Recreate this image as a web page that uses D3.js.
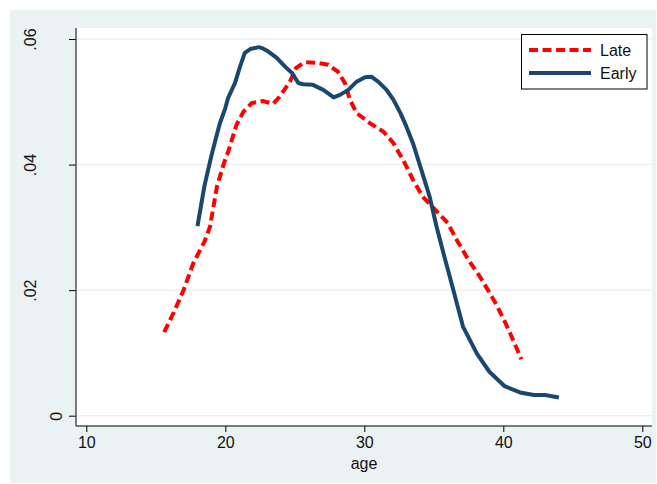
<!DOCTYPE html>
<html>
<head>
<meta charset="utf-8">
<script src="https://cdn.jsdelivr.net/npm/d3@7"></script>
<style>
  body { margin: 0; background: #fff; }
  svg { display: block; font-family: Arial, "Liberation Sans", sans-serif; }
</style>
</head>
<body>
<div id="chart"></div>
<script>
// kernel density by age
var lateAge = [15.6, 16.3, 17.0, 17.7, 18.5, 18.9, 19.4, 19.9, 20.2, 20.8, 21.3, 21.9, 22.7, 23.45, 23.9, 24.65, 25.1, 25.7, 26.6, 27.4, 28.1, 28.6, 28.97, 29.45, 30.4, 31.4, 32.1, 32.8, 33.5, 34.2, 35.1, 36.0, 36.65, 37.5, 38.3, 38.9, 39.5, 40.0, 40.5, 41.3];
var lateDensity = [0.0133, 0.0165, 0.0200, 0.0243, 0.0277, 0.0301, 0.0365, 0.0402, 0.0420, 0.0463, 0.0484, 0.0498, 0.0501, 0.0497, 0.0508, 0.0532, 0.0554, 0.0563, 0.0562, 0.0559, 0.0548, 0.0530, 0.0503, 0.0482, 0.0466, 0.0452, 0.0434, 0.0407, 0.0376, 0.0349, 0.0328, 0.0307, 0.0280, 0.0248, 0.0222, 0.0200, 0.0177, 0.0155, 0.0131, 0.0090];

var earlyAge = [18.0, 18.5, 19.0, 19.3, 19.6, 20.0, 20.2, 20.7, 21.06, 21.4, 21.8, 22.4, 22.7, 23.1, 23.7, 24.3, 24.8, 25.25, 25.6, 26.3, 27.05, 27.8, 28.25, 28.85, 29.45, 30.05, 30.5, 31.0, 31.6, 32.1, 32.6, 33.0, 33.5, 34.1, 34.7, 35.2, 35.8, 36.3, 37.1, 38.1, 39.0, 40.1, 41.2, 42.2, 43.0, 44.0];
var earlyDensity = [0.0302, 0.0366, 0.0414, 0.0440, 0.0465, 0.0490, 0.0506, 0.0530, 0.0556, 0.0578, 0.0584, 0.0587, 0.0585, 0.0580, 0.0570, 0.0556, 0.0546, 0.0530, 0.0528, 0.0527, 0.0519, 0.0507, 0.0511, 0.0519, 0.0532, 0.0539, 0.0540, 0.0532, 0.0519, 0.0503, 0.0482, 0.0462, 0.0434, 0.0392, 0.0349, 0.0301, 0.0250, 0.0209, 0.0142, 0.0099, 0.0070, 0.0047, 0.0037, 0.0033, 0.0033, 0.0029];

var xTicks = [10, 20, 30, 40, 50];
var yTicks = [0, 0.02, 0.04, 0.06];
var yTickLabels = ["0", ".02", ".04", ".06"];
var seriesNames = ["Late", "Early"];

var width = 657, height = 484;
var bg = "#eaf2f3";
var red = "#ff0000", navy = "#1a476f";

var svg = d3.select("#chart").append("svg")
    .attr("width", width)
    .attr("height", height);

// outer graph region
svg.append("rect")
    .attr("x", 10).attr("y", 10)
    .attr("width", 646).attr("height", 473)
    .attr("fill", bg);

// plot region
var plot = {left: 76, top: 28, right: 652, bottom: 426};
svg.append("rect")
    .attr("x", plot.left).attr("y", plot.top)
    .attr("width", plot.right - plot.left)
    .attr("height", plot.bottom - plot.top)
    .attr("fill", "#fff");

var x = d3.scaleLinear().domain([10, 50]).range([86.3, 642.3]);
var y = d3.scaleLinear().domain([0, 0.06]).range([415.7, 39]);

// grid
svg.append("g").selectAll("line")
    .data(yTicks)
    .enter().append("line")
    .attr("x1", plot.left).attr("x2", plot.right)
    .attr("y1", function(d) { return y(d); })
    .attr("y2", function(d) { return y(d); })
    .attr("stroke", bg)
    .attr("stroke-width", 1.5);

// x axis
var xAxis = svg.append("g")
    .attr("transform", "translate(0," + plot.bottom + ")")
    .call(d3.axisBottom(x).tickValues(xTicks).tickSize(6).tickPadding(5).tickSizeOuter(0));
xAxis.select(".domain").remove();
xAxis.append("line")
    .attr("x1", plot.left).attr("x2", plot.right)
    .attr("stroke", "#000").attr("stroke-width", 1.2);
xAxis.selectAll("text").attr("font-size", 16).attr("fill", "#111").attr("font-family", null);

// y axis
var yAxis = svg.append("g")
    .attr("transform", "translate(" + plot.left + ",0)")
    .call(d3.axisLeft(y).tickValues(yTicks).tickSize(7).tickFormat(function(d, i) { return yTickLabels[i]; }));
yAxis.select(".domain").remove();
yAxis.append("line")
    .attr("y1", plot.top).attr("y2", plot.bottom)
    .attr("stroke", "#444").attr("stroke-width", 1.4);
yAxis.selectAll(".tick text")
    .attr("font-size", 16).attr("fill", "#111").attr("font-family", null)
    .attr("text-anchor", "middle")
    .attr("dy", null)
    .each(function() {
        // vertical labels sit further left the longer they are
        var w = this.getComputedTextLength();
        var cx = (80 - 2 * w) - plot.left;
        d3.select(this)
            .attr("x", 0).attr("y", 0)
            .attr("transform", "translate(" + cx + ",0) rotate(-90)");
    });

// lines
var line = d3.line()
    .x(function(d) { return x(d[0]); })
    .y(function(d) { return y(d[1]); });

var lateData = lateAge.map(function(a, i) { return [a, lateDensity[i]]; });
var earlyData = earlyAge.map(function(a, i) { return [a, earlyDensity[i]]; });

svg.append("path")
    .datum(lateData)
    .attr("d", line)
    .attr("fill", "none")
    .attr("stroke", red)
    .attr("stroke-width", 4)
    .attr("stroke-dasharray", "9,4.5");

svg.append("path")
    .datum(earlyData)
    .attr("d", line)
    .attr("fill", "none")
    .attr("stroke", navy)
    .attr("stroke-width", 4)
    .attr("stroke-linejoin", "round");

// axis title
svg.append("text")
    .attr("x", (plot.left + plot.right) / 2)
    .attr("y", 469)
    .attr("text-anchor", "middle")
    .attr("font-size", 16)
    .attr("fill", "#111")
    .text("age");

// legend
var legend = svg.append("g");
legend.append("rect")
    .attr("x", 521.5).attr("y", 34.5)
    .attr("width", 125.5).attr("height", 54.5)
    .attr("fill", "#fff")
    .attr("stroke", "#000")
    .attr("stroke-width", 1);

var legendItems = legend.selectAll("g.item")
    .data(seriesNames)
    .enter().append("g")
    .attr("class", "item")
    .attr("transform", function(d, i) { return "translate(0," + (50 + i * 23) + ")"; });

legendItems.append("line")
    .attr("x1", 529).attr("x2", 591)
    .attr("stroke", function(d, i) { return i === 0 ? red : navy; })
    .attr("stroke-width", 4)
    .attr("stroke-dasharray", function(d, i) { return i === 0 ? "9,4.5" : null; });

legendItems.append("text")
    .attr("x", 600)
    .attr("y", 6)
    .attr("font-size", 16)
    .attr("fill", "#111")
    .text(function(d) { return d; });
</script>
</body>
</html>
